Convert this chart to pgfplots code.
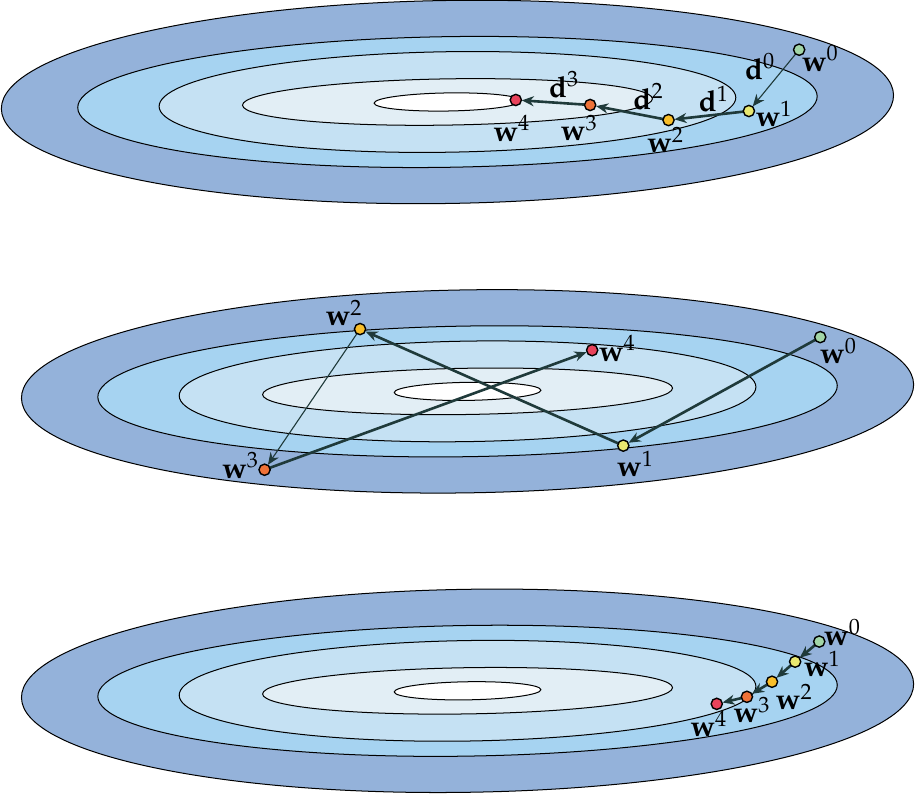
\documentclass[border=0pt]{standalone}
\usepackage{mathpazo}
\usepackage{pgfplots}
\pgfplotsset{compat=1.18}
\usetikzlibrary{arrows.meta}
\definecolor{cA}{HTML}{94B2DA}
\definecolor{cB}{HTML}{A6D3F1}
\definecolor{cC}{HTML}{C5E1F3}
\definecolor{cD}{HTML}{E2EEF5}
\definecolor{pw0}{HTML}{A2D5A7}
\definecolor{pw1}{HTML}{E9E870}
\definecolor{pw2}{HTML}{F9BE2A}
\definecolor{pw3}{HTML}{EF7238}
\definecolor{pw4}{HTML}{E8425B}
\definecolor{arr}{HTML}{1F3A3A}
\begin{document}
\begin{tikzpicture}[lab/.style={font=\fontsize{14.5}{17}\selectfont, inner sep=0pt}]
\begin{axis}[scale only axis, width=457.5pt, height=396.5pt,
  xmin=0, xmax=915, ymin=0, ymax=793, y dir=reverse,
  hide axis, clip=false,
  thk/.style={draw=arr, line width=1.3pt, -{Stealth[length=6pt,width=5pt]}, shorten >=3pt, shorten <=2.5pt},
  thn/.style={draw=arr, line width=0.55pt, -{Stealth[length=6pt,width=5pt]}, shorten >=3pt, shorten <=2.5pt},
  pt/.style={only marks, mark=*, mark size=2.8pt, mark options={draw=black, line width=0.7pt, fill=#1}}]
% contour ellipses for the three panels
\foreach \cx/\cy in {450/106, 470/394, 470/692}{
  \edef\temp{\noexpand\begin{scope}[rotate around={0.9:(axis cs:\cx,\cy)}]
  \noexpand\draw[fill=cA, line width=0.5pt] (axis cs:\cx,\cy) ellipse [x radius=444, y radius=101];
  \noexpand\draw[fill=cB, line width=0.5pt] (axis cs:\cx,\cy) ellipse [x radius=368, y radius=65];
  \noexpand\draw[fill=cC, line width=0.5pt] (axis cs:\cx,\cy) ellipse [x radius=287, y radius=50];
  \noexpand\draw[fill=cD, line width=0.5pt] (axis cs:\cx,\cy) ellipse [x radius=204, y radius=23];
  \noexpand\draw[fill=white, line width=0.5pt] (axis cs:\cx,\cy) ellipse [x radius=73, y radius=9];
  \noexpand\end{scope}}
  \temp
}
% ---- panel 1
\addplot[thn] coordinates {(800,54) (750,115)};
\addplot[thk] coordinates {(750,115) (670,124)};
\addplot[thk] coordinates {(670,124) (592,109)};
\addplot[thk] coordinates {(592,109) (518,104)};
\addplot[pt=pw0] coordinates {(800,54)};
\addplot[pt=pw1] coordinates {(750,115)};
\addplot[pt=pw2] coordinates {(670,124)};
\addplot[pt=pw3] coordinates {(592,109)};
\addplot[pt=pw4] coordinates {(518,104)};
\node[lab] at (axis cs:821,63) {$\mathbf{w}^0$};
\node[lab] at (axis cs:761,71) {$\mathbf{d}^0$};
\node[lab] at (axis cs:775,118) {$\mathbf{w}^1$};
\node[lab] at (axis cs:715,103) {$\mathbf{d}^1$};
\node[lab] at (axis cs:667,144) {$\mathbf{w}^2$};
\node[lab] at (axis cs:650,101) {$\mathbf{d}^2$};
\node[lab] at (axis cs:581,132) {$\mathbf{w}^3$};
\node[lab] at (axis cs:566,89) {$\mathbf{d}^3$};
\node[lab] at (axis cs:514,132) {$\mathbf{w}^4$};
% ---- panel 2
\addplot[thk] coordinates {(821,340) (625,448)};
\addplot[thk] coordinates {(625,448) (363,332)};
\addplot[thn] coordinates {(363,332) (268,472)};
\addplot[thk] coordinates {(268,472) (594,353)};
\addplot[pt=pw0] coordinates {(821,340)};
\addplot[pt=pw1] coordinates {(625,448)};
\addplot[pt=pw2] coordinates {(363,332)};
\addplot[pt=pw3] coordinates {(268,472)};
\addplot[pt=pw4] coordinates {(594,353)};
\node[lab] at (axis cs:839,354) {$\mathbf{w}^0$};
\node[lab] at (axis cs:637,466) {$\mathbf{w}^1$};
\node[lab] at (axis cs:347,316) {$\mathbf{w}^2$};
\node[lab] at (axis cs:244,468) {$\mathbf{w}^3$};
\node[lab] at (axis cs:619,351) {$\mathbf{w}^4$};
% ---- panel 3
\addplot[thk] coordinates {(820,643) (796,663)};
\addplot[thk] coordinates {(796,663) (773,683)};
\addplot[thk] coordinates {(773,683) (748,698)};
\addplot[thk] coordinates {(748,698) (718,705)};
\addplot[pt=pw0] coordinates {(820,643)};
\addplot[pt=pw1] coordinates {(796,663)};
\addplot[pt=pw2] coordinates {(773,683)};
\addplot[pt=pw3] coordinates {(748,698)};
\addplot[pt=pw4] coordinates {(718,705)};
\node[lab] at (axis cs:843,634) {$\mathbf{w}^0$};
\node[lab] at (axis cs:823,665) {$\mathbf{w}^1$};
\node[lab] at (axis cs:795,698) {$\mathbf{w}^2$};
\node[lab] at (axis cs:753,711) {$\mathbf{w}^3$};
\node[lab] at (axis cs:710,725) {$\mathbf{w}^4$};
\end{axis}
\end{tikzpicture}
\end{document}
